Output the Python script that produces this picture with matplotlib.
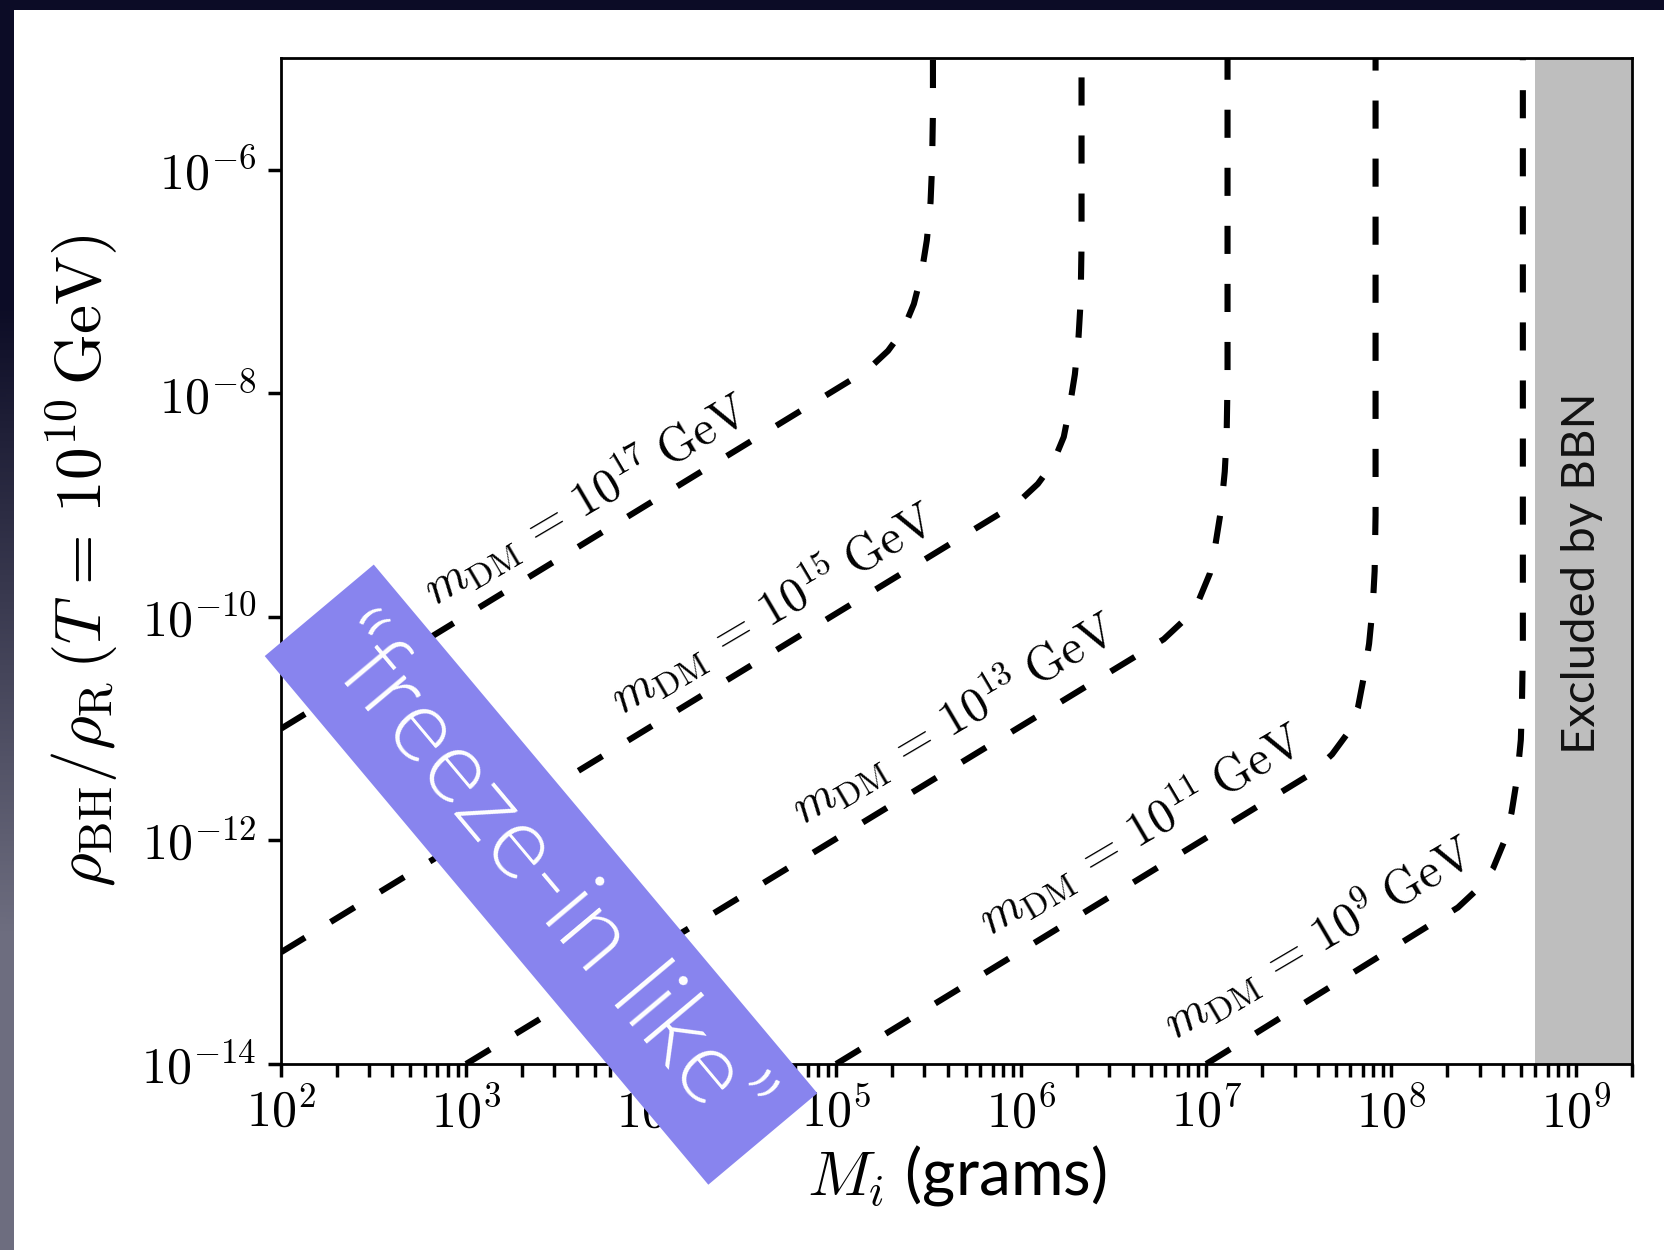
import os
import numpy as np
import matplotlib
matplotlib.use('Agg')
import matplotlib.pyplot as plt
from matplotlib import font_manager as fm
from matplotlib.ticker import LogLocator, NullLocator, NullFormatter
from matplotlib.patches import Rectangle

plt.rcParams['mathtext.fontset'] = 'cm'

# Curvas m_DM (log10 M en gramos, log10 rho_BH/rho_R)
logM_17 = [2.00, 5.17, 5.28, 5.36, 5.42, 5.46, 5.49, 5.51, 5.518, 5.523, 5.523]
logrho_17 = [-11.00, -7.79, -7.62, -7.44, -7.20, -6.94, -6.63, -6.29, -5.98, -5.48, -5.00]

logM_15 = [2.00, 5.98, 6.09, 6.17, 6.23, 6.26, 6.29, 6.31, 6.321, 6.326, 6.326]
logrho_15 = [-13.00, -8.98, -8.81, -8.63, -8.39, -8.14, -7.83, -7.49, -7.18, -6.67, -5.00]

logM_13 = [3.00, 6.77, 6.88, 6.96, 7.02, 7.05, 7.08, 7.10, 7.110, 7.115, 7.115]
logrho_13 = [-14.00, -10.20, -10.03, -9.85, -9.61, -9.35, -9.04, -8.70, -8.39, -7.89, -5.00]

logM_11 = [5.00, 7.57, 7.68, 7.76, 7.82, 7.85, 7.88, 7.90, 7.910, 7.915, 7.915]
logrho_11 = [-14.00, -11.40, -11.23, -11.05, -10.81, -10.55, -10.24, -9.90, -9.59, -9.09, -5.00]

logM_9 = [7.00, 8.36, 8.47, 8.55, 8.61, 8.65, 8.68, 8.70, 8.706, 8.711, 8.711]
logrho_9 = [-14.00, -12.60, -12.43, -12.25, -12.01, -11.75, -11.44, -11.10, -10.79, -10.29, -5.00]

m_dm_exp = [17, 15, 13, 11, 9]
# donde empieza cada etiqueta (log10 M, log10 rho)
label_logM = [2.83, 3.84, 4.82, 5.83, 6.83]
label_logrho = [-9.90, -10.88, -11.86, -12.86, -13.79]

bbn_min = 6e8  # region excluida por BBN
x_range = (1e2, 2e9)
y_range = (1e-14, 1e-5)

xtick_vals = [1e2, 1e3, 1e4, 1e5, 1e6, 1e7, 1e8, 1e9]
xtick_labels = [r'$10^{2}$', r'$10^{3}$', r'$10^{4}$', r'$10^{5}$',
                r'$10^{6}$', r'$10^{7}$', r'$10^{8}$', r'$10^{9}$']
ytick_vals = [1e-14, 1e-12, 1e-10, 1e-8, 1e-6]
ytick_labels = [r'$10^{-14}$', r'$10^{-12}$', r'$10^{-10}$', r'$10^{-8}$', r'$10^{-6}$']

curves = [(logM_17, logrho_17), (logM_15, logrho_15), (logM_13, logrho_13),
          (logM_11, logrho_11), (logM_9, logrho_9)]

# Lato Light para el recuadro, si esta instalada
light_files = [f for f in fm.findSystemFonts()
               if os.path.basename(f).lower() in ('lato-light.ttf', 'lato-light.otf')]
if light_files:
    box_font = fm.FontProperties(fname=light_files[0], size=74)
else:
    box_font = fm.FontProperties(family='Lato', size=74)

fig = plt.figure(figsize=(16.65, 12.5), dpi=100)

# fondo tipo diapositiva
bg = fig.add_axes([0, 0, 1, 1], zorder=-5)
grad = np.array([[[0.05, 0.05, 0.15]], [[0.43, 0.43, 0.50]]])
bg.imshow(grad, aspect='auto', extent=[0, 1, 0, 1], interpolation='bilinear')
bg.add_patch(Rectangle((14 / 1665, 0), 1, 1 - 10 / 1250, fc='white', ec='none'))
bg.set_xlim(0, 1)
bg.set_ylim(0, 1)
bg.axis('off')

ax = fig.add_axes([0.1688, 0.1488, 0.8114, 0.8048])
ax.set_xscale('log')
ax.set_yscale('log')

ax.axvspan(bbn_min, x_range[1], color='#bebebe', lw=0, zorder=1)

for lm, lr in curves:
    ax.plot(10 ** np.array(lm), 10 ** np.array(lr), color='k', lw=4.4,
            ls=(0, (4.6, 4.9)), zorder=2)

for e, lx, ly in zip(m_dm_exp, label_logM, label_logrho):
    ax.text(10 ** lx, 10 ** ly, r'$m_{\rm DM}\,=\,10^{%d}\;{\rm GeV}$' % e,
            rotation=30.5, rotation_mode='anchor', ha='left', va='baseline',
            fontsize=35, zorder=3)

ax.text(10 ** 9.03, 10 ** -9.61, 'Excluded by BBN', rotation=90, ha='center',
        va='center', fontsize=34, family='Lato', color='#111111', zorder=3)

ax.text(10 ** 3.405, 10 ** -12.306, '\u201cfreeze-in like\u201d', rotation=-50,
        rotation_mode='anchor', ha='center', va='center', fontproperties=box_font,
        color='white', zorder=10, clip_on=False,
        bbox=dict(boxstyle='square,pad=0.24', fc='#8884ee', ec='none'))

ax.set_xlim(*x_range)
ax.set_ylim(*y_range)
ax.set_xticks(xtick_vals)
ax.set_xticklabels(xtick_labels)
ax.xaxis.set_minor_locator(LogLocator(base=10, subs=np.arange(2, 10), numticks=30))
ax.xaxis.set_minor_formatter(NullFormatter())
ax.set_yticks(ytick_vals)
ax.set_yticklabels(ytick_labels)
ax.yaxis.set_minor_locator(NullLocator())
ax.tick_params(which='both', direction='out', length=9.5, width=2.5,
               labelsize=36, pad=8)
for s in ax.spines.values():
    s.set_linewidth(2)

ax.set_xlabel(r'$M_i$ (grams)', fontsize=46, family='Lato')
ax.set_ylabel(r'$\rho_{\rm BH}/\rho_{\rm R}\,(T\,=\,10^{10}\,{\rm GeV})$',
              fontsize=47, labelpad=15)

fig.savefig('out.png', dpi=100)
